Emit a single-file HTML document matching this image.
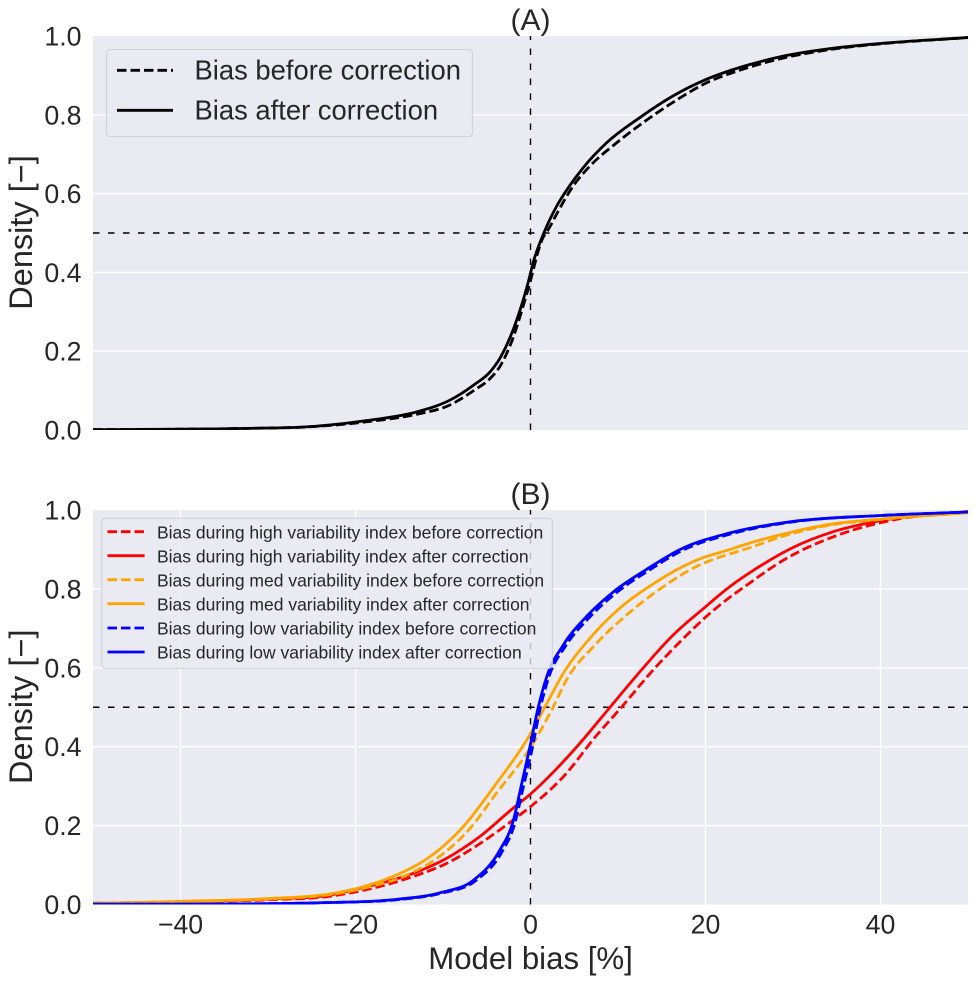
<!DOCTYPE html>
<html lang="en">
<head>
<meta charset="utf-8">
<title>Model bias cumulative density</title>
<style>
html,body{margin:0;padding:0;background:#fff}
svg{display:block}
text{font-family:"Liberation Sans",Arial,sans-serif;fill:#262626}
</style>
</head>
<body>
<svg id="chart" xmlns="http://www.w3.org/2000/svg" width="975" height="982" viewBox="0 0 975 982">
<defs>
<clipPath id="clip-a"><rect x="93" y="36" width="875" height="394"/></clipPath>
<clipPath id="clip-b"><rect x="93" y="510" width="875" height="394.5"/></clipPath>
</defs>
<g id="root"></g>
</svg>
<script>
var xTicks = [-40, -20, 0, 20, 40];
var xTickLabels = ["\u221240", "\u221220", "0", "20", "40"];
var yTicks = [0, 0.2, 0.4, 0.6, 0.8, 1];
var yTickLabels = ["0.0", "0.2", "0.4", "0.6", "0.8", "1.0"];

var allBeforeX = [-50,-40,-30,-26.3,-18.7,-13,-9.2,-6.5,-4.6,-3.5,-2.3,-0.3,1.4,2.04,3.18,4.9,6.8,9.85,13.3,17.1,20.1,23.9,28.5,35,40,50];
var allBeforeY = [0.001,0.002,0.005,0.007,0.021,0.04,0.0635,0.1,0.131,0.161,0.216,0.355,0.487,0.509,0.556,0.62,0.67,0.729,0.787,0.843,0.881,0.913,0.942,0.968,0.98,0.996];
var allAfterX = [-50,-40,-30,-26.3,-18.7,-13,-9.2,-6.5,-4.6,-3.5,-2.3,-0.25,0.33,1.47,3,4.32,6.03,8.7,12.5,16.3,20.1,23.9,28.5,35,40,50];
var allAfterY = [0.001,0.002,0.005,0.007,0.024,0.046,0.076,0.114,0.148,0.182,0.237,0.376,0.427,0.497,0.5685,0.615,0.666,0.729,0.793,0.848,0.89,0.92,0.947,0.97,0.981,0.996];

var highBeforeX = [-50,-40,-30,-22.9,-19.1,-13.4,-9.6,-5.8,-2,0,3.8,7.6,10.2,14,17.5,20.5,22.8,24.3,29.3,34.6,41.5,50];
var highBeforeY = [0.003,0.006,0.012,0.021,0.036,0.071,0.104,0.154,0.214,0.248,0.325,0.43,0.495,0.594,0.675,0.738,0.779,0.803,0.878,0.932,0.975,0.996];
var highAfterX = [-50,-40,-30,-22.9,-19.1,-13.4,-9.6,-5.8,-2,0,2.67,5.3,8.9,12.5,16.3,19.75,22.8,25.9,30,34.6,40,50];
var highAfterY = [0.003,0.007,0.014,0.024,0.043,0.079,0.117,0.172,0.244,0.28,0.337,0.4,0.495,0.59,0.683,0.75,0.806,0.853,0.905,0.945,0.973,0.996];
var medBeforeX = [-50,-40,-30,-22.9,-19.1,-14.1,-10.7,-6.9,-3.9,-0.43,2.6,4.1,7.2,11,15.2,19,22.8,24.3,30,34.6,40,50];
var medBeforeY = [0.003,0.007,0.014,0.025,0.041,0.075,0.117,0.193,0.282,0.383,0.501,0.569,0.654,0.734,0.806,0.857,0.889,0.899,0.941,0.963,0.976,0.993];
var medAfterX = [-50,-40,-30,-22.9,-19.1,-15.3,-11.5,-7.7,-3.9,-0.43,1.66,3.75,6.8,10.2,14.4,19,22.8,24.3,30,34.6,40,50];
var medAfterY = [0.003,0.008,0.015,0.027,0.045,0.075,0.121,0.197,0.307,0.417,0.501,0.586,0.675,0.751,0.818,0.873,0.9,0.911,0.945,0.965,0.977,0.993];
var lowBeforeX = [-50,-40,-30,-22.9,-15.3,-10.3,-6.3,-3.3,-1.8,-0.8,0.1,1.15,2.1,4,6.7,9.8,13.6,17.4,23,30,40,50];
var lowBeforeY = [0.001,0.001,0.002,0.005,0.012,0.028,0.06,0.132,0.205,0.3,0.385,0.501,0.577,0.655,0.727,0.79,0.848,0.898,0.94,0.97,0.986,0.995];
var lowAfterX = [-50,-40,-30,-22.9,-15.3,-10.3,-6.5,-3.5,-2,-1,-0.14,0.9,1.85,3.75,6.4,9.5,13.3,17.1,22.8,30,40,50];
var lowAfterY = [0.001,0.001,0.002,0.005,0.013,0.03,0.062,0.138,0.21,0.307,0.392,0.501,0.577,0.658,0.73,0.793,0.85,0.9,0.942,0.971,0.986,0.995];

var legendALabels = ["Bias before correction", "Bias after correction"];
var legendBLabels = [
  "Bias during high variability index before correction",
  "Bias during high variability index after correction",
  "Bias during med variability index before correction",
  "Bias during med variability index after correction",
  "Bias during low variability index before correction",
  "Bias during low variability index after correction"
];

var NS = "http://www.w3.org/2000/svg";
var root = document.getElementById("root");
var PLOT_L = 93, PLOT_R = 968;
function xScale(v){ return PLOT_L + (v + 50) / 100 * (PLOT_R - PLOT_L); }
function yScaleFor(top, bottom){ return function(v){ return bottom - v * (bottom - top); }; }

function mk(tag, attrs, parent, txt){
  var el = document.createElementNS(NS, tag);
  for (var k in attrs) el.setAttribute(k, attrs[k]);
  if (txt !== undefined) el.textContent = txt;
  (parent || root).appendChild(el);
  return el;
}

function smoothPath(xs, ys, yScale){
  var p = xs.map(function(v, i){ return [xScale(v), yScale(ys[i])]; });
  var n = p.length, m = [], i;
  for (i = 0; i < n; i++){
    if (i === 0){ m.push((p[1][1] - p[0][1]) / (p[1][0] - p[0][0])); continue; }
    if (i === n - 1){ m.push((p[i][1] - p[i-1][1]) / (p[i][0] - p[i-1][0])); continue; }
    var h0 = p[i][0] - p[i-1][0], h1 = p[i+1][0] - p[i][0];
    var d0 = (p[i][1] - p[i-1][1]) / h0, d1 = (p[i+1][1] - p[i][1]) / h1;
    m.push((h1 * d0 + h0 * d1) / (h0 + h1));
  }
  var d = "M" + p[0][0].toFixed(2) + " " + p[0][1].toFixed(2);
  for (i = 0; i < n - 1; i++){
    var h = (p[i+1][0] - p[i][0]) / 3;
    d += "C" + (p[i][0] + h).toFixed(2) + " " + (p[i][1] + m[i] * h).toFixed(2) + " " +
         (p[i+1][0] - h).toFixed(2) + " " + (p[i+1][1] - m[i+1] * h).toFixed(2) + " " +
         p[i+1][0].toFixed(2) + " " + p[i+1][1].toFixed(2);
  }
  return d;
}

function drawPanel(name, top, bottom, clipId, showVerticalGrid){
  var yS = yScaleFor(top, bottom);
  var g = mk("g", {}, root);
  
  
  var bg = mk("rect", {x: PLOT_L, y: top, width: PLOT_R - PLOT_L, height: bottom - top, fill: "#eaeaf2"}, g);
  
  
  yTicks.forEach(function(t, i){
    var py = yS(t);
    if (t > 0 && t < 1){
      var gl = mk("line", {x1: PLOT_L, x2: PLOT_R, y1: py, y2: py, stroke: "#fff", "stroke-width": 1.4}, g);
      
      
    }
    var lab = mk("text", {x: 81.5, y: py + 9.5, "text-anchor": "end", "font-size": 26.7}, g, yTickLabels[i]);
    
    
  });
  if (showVerticalGrid){
    xTicks.forEach(function(t, i){
      var px = xScale(t);
      var gl = mk("line", {x1: px, x2: px, y1: top, y2: bottom, stroke: "#fff", "stroke-width": 1.4}, g);
      
      
      var lab = mk("text", {x: px, y: bottom + 29, "text-anchor": "middle", "font-size": 26.7}, g, xTickLabels[i]);
      
      
    });
  }
  var hr = mk("line", {x1: PLOT_L, x2: PLOT_R, y1: yS(0.5), y2: yS(0.5), stroke: "#000", "stroke-width": 1.4, "stroke-dasharray": "6.5 8.5"}, g);
  
  
  var vr = mk("line", {x1: xScale(0), x2: xScale(0), y1: bottom, y2: top, stroke: "#000", "stroke-width": 1.4, "stroke-dasharray": "6.5 8.5"}, g);
  
  
  var yl = mk("text", {transform: "translate(32," + ((top + bottom) / 2 - 0.5) + ") rotate(-90)", "text-anchor": "middle", "font-size": 32.5}, g, "Density [\u2212]");
  
  
  var ti = mk("text", {x: xScale(0), y: top - 6, "text-anchor": "middle", "font-size": 30}, g, name === "panel-a" ? "(A)" : "(B)");
  
  
  return {g: g, yS: yS, clipId: clipId};
}

function drawSeries(panel, xs, ys, color, dashed, name){
  var p = mk("path", {d: smoothPath(xs, ys, panel.yS), fill: "none", stroke: color, "stroke-width": 2.8,
    "stroke-dasharray": dashed ? "9.5 4" : "none", "clip-path": "url(#" + panel.clipId + ")"}, panel.g);
  
  
}

var panelA = drawPanel("panel-a", 36, 430, "clip-a", false);
drawSeries(panelA, allBeforeX, allBeforeY, "#000", true, "bias-before-line");
drawSeries(panelA, allAfterX, allAfterY, "#000", false, "bias-after-line");

var panelB = drawPanel("panel-b", 510, 904.5, "clip-b", true);
drawSeries(panelB, highBeforeX, highBeforeY, "#ff0000", true, "high-variability-before-line");
drawSeries(panelB, highAfterX, highAfterY, "#ff0000", false, "high-variability-after-line");
drawSeries(panelB, medBeforeX, medBeforeY, "#ffa500", true, "med-variability-before-line");
drawSeries(panelB, medAfterX, medAfterY, "#ffa500", false, "med-variability-after-line");
drawSeries(panelB, lowBeforeX, lowBeforeY, "#0000ff", true, "low-variability-before-line");
drawSeries(panelB, lowAfterX, lowAfterY, "#0000ff", false, "low-variability-after-line");

var xTitle = mk("text", {x: xScale(0), y: 969, "text-anchor": "middle", "font-size": 31.2}, panelB.g, "Model bias [%]");



function drawLegend(name, parent, box, lineX1, lineX2, textX, rows, fontSize, lw, dash, textDy){
  var g = mk("g", {}, parent);
  
  
  mk("rect", {x: box[0], y: box[1], width: box[2], height: box[3], rx: 3.5, ry: 3.5,
    fill: "#eaeaf2", "fill-opacity": 0.8, stroke: "#cccccc", "stroke-opacity": 0.8, "stroke-width": 1.1}, g);
  rows.forEach(function(r){
    var ln = mk("line", {x1: lineX1, x2: lineX2, y1: r.y, y2: r.y, stroke: r.color, "stroke-width": lw,
      "stroke-dasharray": r.dashed ? dash : "none"}, g);
    
    
    var tx = mk("text", {x: textX, y: r.y + textDy, "font-size": fontSize}, g, r.label);
    
    
  });
}

drawLegend("legend-a", panelA.g, [106.5, 49.5, 366, 87], 117, 173, 194.5, [
  {y: 70.3, color: "#000", dashed: true, label: legendALabels[0]},
  {y: 110.3, color: "#000", dashed: false, label: legendALabels[1]}
], 27.4, 2.8, "9.5 4", 9.4);

drawLegend("legend-b", panelB.g, [101.8, 518.3, 450.7, 150], 107.5, 144.6, 157, [
  {y: 531.7, color: "#ff0000", dashed: true, label: legendBLabels[0]},
  {y: 555.7, color: "#ff0000", dashed: false, label: legendBLabels[1]},
  {y: 579.7, color: "#ffa500", dashed: true, label: legendBLabels[2]},
  {y: 603.7, color: "#ffa500", dashed: false, label: legendBLabels[3]},
  {y: 628, color: "#0000ff", dashed: true, label: legendBLabels[4]},
  {y: 652, color: "#0000ff", dashed: false, label: legendBLabels[5]}
], 17.5, 2.8, "9.5 4", 6.6);
</script>
</body>
</html>
